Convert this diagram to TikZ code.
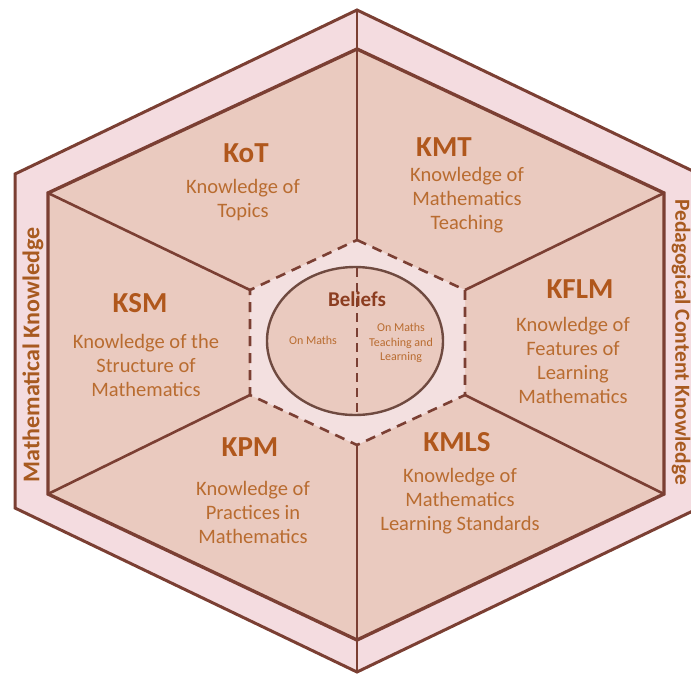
\documentclass[tikz,border=0pt]{standalone}
\usepackage{fontspec}
\setmainfont{Carlito}
\definecolor{lineb}{HTML}{7B3F33}
\definecolor{ellb}{HTML}{6F4A40}
\definecolor{band}{HTML}{F4DCE0}
\definecolor{sector}{HTML}{EACABF}
\definecolor{centerhex}{HTML}{F3E0E0}
\definecolor{titlec}{HTML}{B0571C}
\definecolor{bodyc}{HTML}{B96C30}
\definecolor{beliefc}{HTML}{8C3D20}
\definecolor{sidec}{HTML}{A85A20}
\begin{document}
\begin{tikzpicture}[x=1pt,y=-1pt,
  hexline/.style={draw=lineb, line width=3pt, line join=miter},
  spoke/.style={draw=lineb, line width=2.6pt},
  dashline/.style={draw=lineb, line width=2.6pt, dash pattern=on 10pt off 7pt},
  title/.style={font=\bfseries\fontsize{29}{31}\selectfont, text=titlec},
  body/.style={font=\fontsize{20.5}{24}\selectfont, text=bodyc, align=center},
  small/.style={font=\fontsize{12}{14.5}\selectfont, text=bodyc, align=center},
  side/.style={font=\bfseries\fontsize{24}{26}\selectfont, text=sidec}]
\useasboundingbox (0,0) rectangle (691,675);
\fill[white] (0,0) rectangle (691,675);
% outer hexagon
\coordinate (oT) at (357,10);
\coordinate (oUR) at (699,174);
\coordinate (oLR) at (699,508);
\coordinate (oB) at (357,672);
\coordinate (oLL) at (15,508);
\coordinate (oUL) at (15,174);
% inner hexagon
\coordinate (iT) at (357,49);
\coordinate (iUR) at (664,193);
\coordinate (iLR) at (664,494);
\coordinate (iB) at (357,640);
\coordinate (iLL) at (48,494);
\coordinate (iUL) at (48,193);
% central hexagon
\coordinate (cT) at (357,240);
\coordinate (cUR) at (465,290);
\coordinate (cLR) at (465,395);
\coordinate (cB) at (357,445);
\coordinate (cLL) at (250,395);
\coordinate (cUL) at (250,290);
% ellipse ends
\coordinate (eT) at (357,268);
\coordinate (eB) at (357,415);
\fill[band] (oT) -- (oUR) -- (oLR) -- (oB) -- (oLL) -- (oUL) -- cycle;
\fill[sector] (iT) -- (iUR) -- (iLR) -- (iB) -- (iLL) -- (iUL) -- cycle;
\fill[centerhex] (cT) -- (cUR) -- (cLR) -- (cB) -- (cLL) -- (cUL) -- cycle;
\draw[hexline] (oT) -- (oUR) -- (oLR) -- (oB) -- (oLL) -- (oUL) -- cycle;
\draw[hexline, line width=3.4pt] (iT) -- (iUR) -- (iLR) -- (iB) -- (iLL) -- (iUL) -- cycle;
\draw[spoke] (oT) -- (cT);
\draw[spoke] (oB) -- (cB);
\draw[spoke] (iUL) -- (cUL);
\draw[spoke] (iUR) -- (cUR);
\draw[spoke] (iLL) -- (cLL);
\draw[spoke] (iLR) -- (cLR);
\draw[dashline] (cT) -- (cUR) -- (cLR) -- (cB) -- (cLL) -- (cUL) -- cycle;
\draw[draw=ellb, fill=sector, line width=2.4pt] (355,341) ellipse [x radius=88, y radius=74];
\draw[dashline, dash pattern=on 9pt off 6pt] (eT) -- (eB);
% texts
\node[title] (kot) at (246,153) {KoT};
\node[body] (kotb) at (243,200) {Knowledge of\\Topics};
\node[title] (kmt) at (444,147) {KMT};
\node[body] (kmtb) at (467,200) {Knowledge of\\Mathematics\\Teaching};
\node[title] (ksm) at (140,303) {KSM};
\node[body] (ksmb) at (146,365) {Knowledge of the\\Structure of\\Mathematics};
\node[title] (kflm) at (580,289) {KFLM};
\node[body] (kflmb) at (573,360) {Knowledge of\\Features of\\Learning\\Mathematics};
\node[title] (kpm) at (250,447) {KPM};
\node[body] (kpmb) at (253,512) {Knowledge of\\Practices in\\Mathematics};
\node[title] (kmls) at (457,442) {KMLS};
\node[body] (kmlsb) at (460,501) {Knowledge of\\Mathematics\\Learning Standards};
\node[font=\bfseries\fontsize{21}{23}\selectfont, text=beliefc] (bel) at (357,299) {Beliefs};
\node[small] (onm) at (313,340) {On Maths};
\node[small] (onmt) at (401,343) {On Maths\\Teaching and\\Learning};
\node[side, rotate=90] (mk) at (33,355) {Mathematical Knowledge};
\node[side, rotate=-90, font=\bfseries\fontsize{21.5}{23}\selectfont] (pck) at (681,342) {Pedagogical Content Knowledge};
\end{tikzpicture}
\end{document}
